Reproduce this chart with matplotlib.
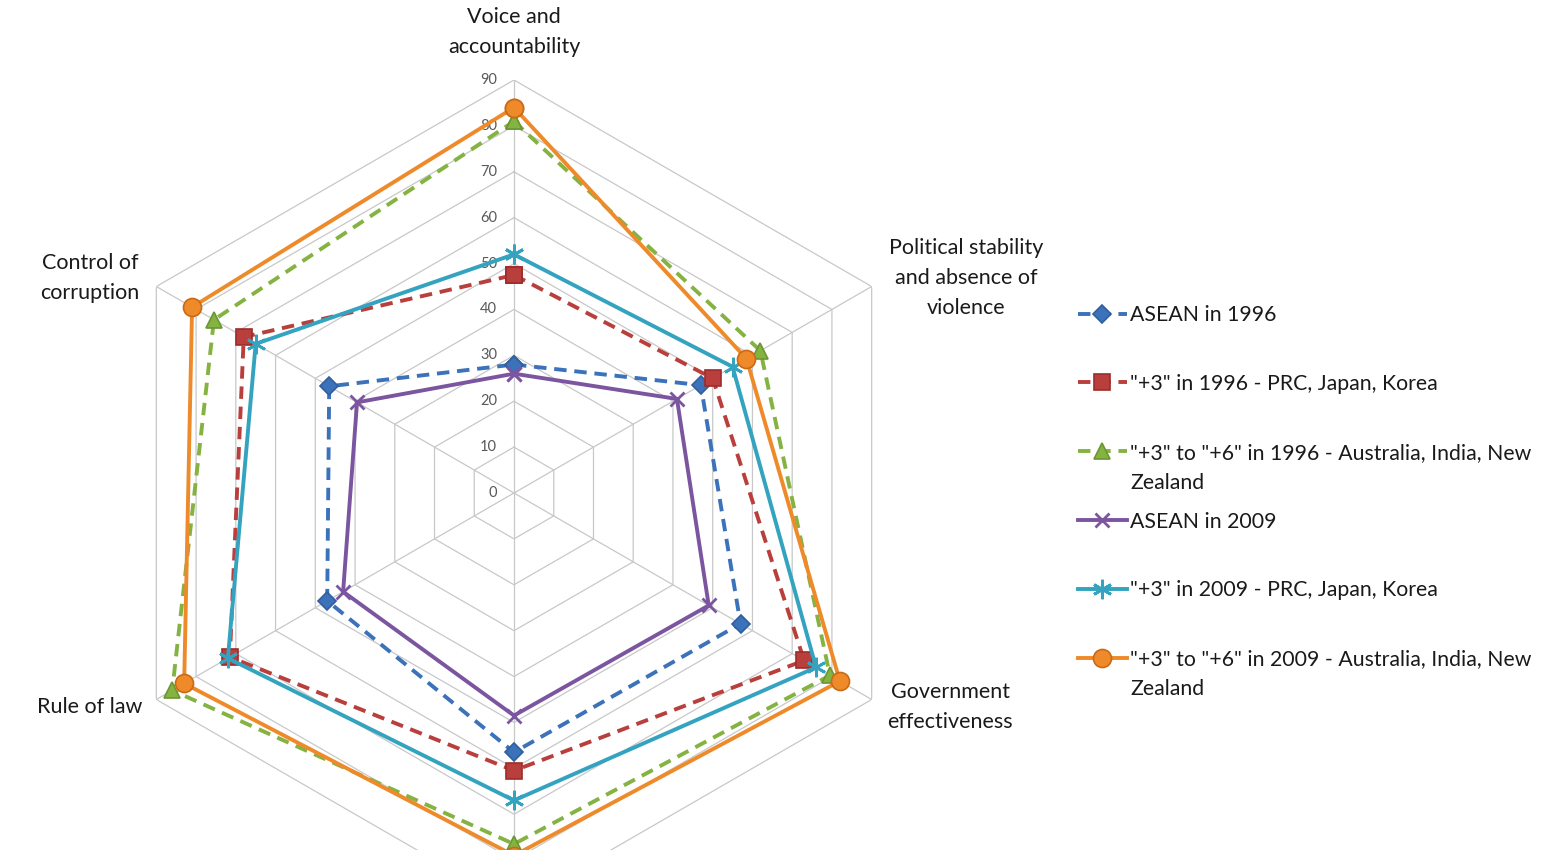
import numpy as np
import matplotlib
matplotlib.use("Agg")
from matplotlib import pyplot as plt
from matplotlib.transforms import offset_copy

plt.rcParams['font.family'] = ['Lato', 'DejaVu Sans']

# axes of the radar, clockwise from the top
categories = ["Voice and\naccountability",
              "Political stability\nand absence of\nviolence",
              "Government\neffectiveness",
              "Regulatory quality",
              "Rule of law",
              "Control of\ncorruption"]

asean_1996 = [28, 47, 57, 56.5, 47, 46.5]
plus3_1996 = [47.5, 50, 73, 60.5, 71.5, 68]
plus6_1996 = [81, 62, 79.5, 76.5, 86, 75.5]
asean_2009 = [26, 41, 49, 48.5, 43, 39.5]
plus3_2009 = [52, 55, 76, 67, 72, 65]
plus6_2009 = [84, 58.5, 82, 79, 83, 81]

labels = ["ASEAN in 1996",
          '"+3" in 1996 - PRC, Japan, Korea',
          '"+3" to "+6" in 1996 - Australia, India, New',
          "ASEAN in 2009",
          '"+3" in 2009 - PRC, Japan, Korea',
          '"+3" to "+6" in 2009 - Australia, India, New']

r_ticks = [0, 10, 20, 30, 40, 50, 60, 70, 80, 90]

W, H = 1543, 850
fig = plt.figure(figsize=(W / 100, H / 100), dpi=100)

# radar centre at (514, 493) px, radius 413 px for 90
cx, cy, R = 514, 493, 413
ax = fig.add_axes([(cx - R) / W, (H - cy - R) / H, 2 * R / W, 2 * R / H],
                  projection='polar')
ax.set_theta_offset(np.pi / 2)
ax.set_theta_direction(-1)
ax.set_ylim(0, 90)
ax.set_xticks([])
ax.set_yticks([])
ax.grid(False)
ax.spines['polar'].set_visible(False)

n = len(categories)
theta = np.linspace(0, 2 * np.pi, n, endpoint=False)
theta_c = np.append(theta, theta[0])

# hexagon grid
grid_col = '#c8c8c8'
for v in r_ticks[1:]:
    ax.plot(theta_c, [v] * (n + 1), color=grid_col, lw=0.9, zorder=1)
for t in theta:
    ax.plot([t, t], [0, 90], color=grid_col, lw=0.9, zorder=1)

# scale labels along the top spoke
lab_tr = offset_copy(ax.transData, fig=fig, x=-17, y=0, units='dots')
for v in r_ticks:
    ax.text(0, v, str(v), transform=lab_tr, ha='right', va='center',
            fontsize=10.5, color='#595959')

series = [
    (asean_1996, '#3b72b9', '#2f5f9e', 'D', 9, '--'),
    (plus3_1996, '#b93f3c', '#9c2c2a', 's', 11, '--'),
    (plus6_1996, '#85b342', '#6b9634', '^', 11, '--'),
    (asean_2009, '#7b559f', '#7b559f', 'x', 10, '-'),
    (plus3_2009, '#33a3c0', '#33a3c0', (6, 2, 0), 14, '-'),
    (plus6_2009, '#ee8a2a', '#c96a14', 'o', 13, '-'),
]

handles = []
for (vals, col, ecol, mk, ms, ls), lab in zip(series, labels):
    v = np.append(vals, vals[0])
    mew = 2 if mk in ('x', (6, 2, 0)) else 1.2
    line, = ax.plot(theta_c, v, color=col, lw=2.8, linestyle=ls,
                    marker=mk, markersize=ms, markerfacecolor=col,
                    markeredgecolor=ecol, markeredgewidth=mew,
                    label=lab, zorder=3, clip_on=False)
    if ls == '--':
        line.set_dashes((3.2, 2))
    handles.append(line)

# category labels
lab_kw = dict(fontsize=15.5, color='#1a1a1a', linespacing=1.65)
fig.text(514 / W, 1 - 32 / H, categories[0], ha='center', va='center', **lab_kw)
fig.text(966 / W, 1 - 278 / H, categories[1], ha='center', va='center', **lab_kw)
fig.text(950 / W, 1 - 707 / H, categories[2], ha='center', va='center', **lab_kw)
fig.text(142 / W, 1 - 707 / H, categories[4], ha='right', va='center', **lab_kw)
fig.text(90 / W, 1 - 278 / H, categories[5], ha='center', va='center', **lab_kw)

leg = fig.legend(handles=handles, loc='upper left',
                 bbox_to_anchor=(1078 / W, 1 - 305 / H),
                 bbox_transform=fig.transFigure, frameon=False,
                 fontsize=15.3, borderpad=0, borderaxespad=0,
                 handlelength=2.3, handletextpad=0.15, labelspacing=2.3)
for t in leg.get_texts():
    t.set_color('#1a1a1a')

# second line of the two long legend entries
fig.canvas.draw()
for i in (2, 5):
    bb = leg.get_texts()[i].get_window_extent()
    fig.text(bb.x0 / W, (bb.y0 - 30) / H, "Zealand", ha='left', va='bottom',
             fontsize=15.3, color='#1a1a1a')

fig.savefig("out.png", dpi=100)
